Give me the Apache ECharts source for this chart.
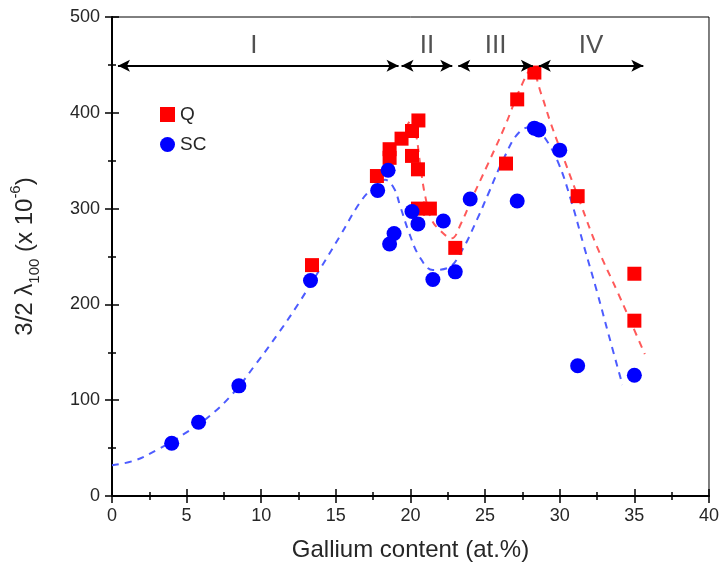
<!DOCTYPE html>
<html>
<head>
<meta charset="utf-8">
<script src="https://cdn.jsdelivr.net/npm/echarts@6/dist/echarts.min.js"></script>
<style>
  html, body { margin: 0; padding: 0; background: #fff; }
  #chart { width: 722px; height: 572px; }
</style>
</head>
<body>
<div id="chart"></div>
<script>
// measured points (Gallium content, 3/2 lambda100)
var qData = [
  [13.4, 241], [17.75, 334], [18.6, 353], [18.6, 362], [19.4, 373], [20.1, 381],
  [20.53, 392], [20.1, 355], [20.5, 341], [20.5, 300], [21.3, 300], [23.0, 259],
  [26.4, 347], [27.15, 414], [28.3, 442], [31.2, 313], [35.0, 232], [35.0, 183]
];
var scData = [
  [4.0, 55], [5.8, 77], [8.5, 115], [13.3, 225], [17.8, 319], [18.5, 340],
  [18.6, 263], [18.9, 274], [20.1, 297], [20.5, 284], [21.5, 226], [22.2, 287],
  [23.0, 234], [24.0, 310], [27.15, 308], [28.3, 384], [28.6, 382], [30.0, 361],
  [31.2, 136], [35.0, 126]
];
// dashed guide curves
var scFit = [
  [0, 32], [1.5, 37], [3, 48], [4.75, 64], [6.5, 83], [8.1, 107], [9.65, 138],
  [11.2, 171], [12.5, 201], [13.9, 236], [15.3, 272], [16.6, 306], [17.5, 322],
  [18.3, 330], [18.9, 321], [19.3, 303], [19.9, 275], [20.6, 250], [21.5, 236],
  [22.5, 238], [23.4, 255], [24.5, 290], [25.2, 315], [26.3, 354], [27.3, 380],
  [28.3, 386], [29.0, 374], [29.9, 348], [30.75, 309], [31.6, 262], [32.5, 213],
  [33.3, 167], [34.2, 116]
];
var qFit = [
  [19.7, 384], [20.1, 394], [20.4, 375], [20.7, 340], [21.0, 312], [21.4, 289],
  [22.0, 277], [22.75, 269], [23.4, 285], [24.1, 310], [25.2, 347], [26.3, 385],
  [27.4, 427], [28.1, 445], [28.75, 420], [29.4, 389], [30.3, 351], [31.4, 305],
  [32.5, 260], [33.9, 212], [35.2, 166], [35.7, 148]
];
// composition regions
var regionNames = ['I', 'II', 'III', 'IV'];
var regionStart = [0.4, 19.4, 23.2, 28.6];
var regionEnd = [19.2, 22.8, 28.2, 35.6];
var regionLabelX = [9.5, 21.1, 25.7, 32.1];
var arrowY = 449;
var labelY = 470;

var font = 'Liberation Sans, Arial, sans-serif';
var txt = '#262626';
var chart = echarts.init(document.getElementById('chart'));

var arrowLines = regionNames.map(function (n, i) {
  return [{ coord: [regionStart[i], arrowY] }, { coord: [regionEnd[i], arrowY] }];
});
var labelPts = regionNames.map(function (n, i) {
  return { name: n, value: [regionLabelX[i], labelY] };
});

var tick = { inside: true, length: 7, lineStyle: { color: '#000', width: 1.5 } };
var minor = { show: true, splitNumber: 2, length: 4, lineStyle: { color: '#000', width: 1.5 } };

chart.setOption({
  animation: false,
  grid: { left: 112, right: 11, top: 17, bottom: 76, show: true, borderColor: '#000', borderWidth: 1 },
  legend: {
    data: ['Q', 'SC'],
    orient: 'vertical',
    left: 155,
    top: 100,
    itemWidth: 15,
    itemHeight: 15,
    itemGap: 11,
    textStyle: { fontFamily: font, fontSize: 19, color: txt }
  },
  xAxis: [{
    type: 'value', min: 0, max: 40, interval: 5,
    name: 'Gallium content (at.%)', nameLocation: 'middle', nameGap: 42,
    nameTextStyle: { fontFamily: font, fontSize: 24, color: txt },
    axisLine: { lineStyle: { color: '#000', width: 2 } },
    axisTick: tick, minorTick: minor,
    axisLabel: { fontFamily: font, fontSize: 18, color: txt, margin: 11 },
    splitLine: { show: false }
  }, {
    type: 'value', min: 0, max: 40, interval: 5, position: 'top',
    axisLine: { lineStyle: { color: '#000', width: 1 } },
    axisTick: tick, minorTick: minor,
    axisLabel: { show: false },
    splitLine: { show: false }
  }],
  yAxis: [{
    type: 'value', min: 0, max: 500, interval: 100,
    name: '3/2 λ{sub|100} (x 10{sup|-6})', nameLocation: 'middle', nameGap: 70, nameRotate: 90,
    nameTextStyle: {
      fontFamily: font, fontSize: 24, color: txt, lineHeight: 34,
      rich: {
        sub: { fontFamily: font, fontSize: 15, color: txt, verticalAlign: 'bottom', lineHeight: 24 },
        sup: { fontFamily: font, fontSize: 15, color: txt, verticalAlign: 'top', lineHeight: 34 }
      }
    },
    axisLine: { lineStyle: { color: '#000', width: 2 } },
    axisTick: tick, minorTick: minor,
    axisLabel: { fontFamily: font, fontSize: 18, color: txt, margin: 12 },
    splitLine: { show: false }
  }, {
    type: 'value', min: 0, max: 500, interval: 100, position: 'right',
    axisLine: { show: true, lineStyle: { color: '#000', width: 1 } },
    axisTick: { show: true, inside: true, length: 7, lineStyle: { color: '#000', width: 1.5 } },
    minorTick: minor,
    axisLabel: { show: false },
    splitLine: { show: false }
  }],
  series: [{
    name: 'SC fit', type: 'line', data: scFit, smooth: 0.4, showSymbol: false, silent: true,
    lineStyle: { color: '#4d5cff', width: 2, type: [7, 6] }, z: 1
  }, {
    name: 'Q fit', type: 'line', data: qFit, smooth: 0.4, showSymbol: false, silent: true,
    lineStyle: { color: '#ff5a5a', width: 2, type: [7, 6] }, z: 1
  }, {
    name: 'regions', type: 'scatter', data: labelPts, symbolSize: 0, silent: true,
    label: { show: true, formatter: '{b}', position: 'inside', fontFamily: font, fontSize: 26, color: txt },
    markLine: {
      silent: true, symbol: ['arrow', 'arrow'], symbolSize: [9, 12],
      label: { show: false },
      lineStyle: { color: '#000', width: 2, type: 'solid' },
      data: arrowLines
    }
  }, {
    name: 'Q', type: 'scatter', data: qData, symbol: 'rect', symbolSize: 14,
    itemStyle: { color: '#ff0000', opacity: 1 }, z: 3
  }, {
    name: 'SC', type: 'scatter', data: scData, symbol: 'circle', symbolSize: 15,
    itemStyle: { color: '#0000ff', opacity: 1 }, z: 4
  }]
});
</script>
</body>
</html>
